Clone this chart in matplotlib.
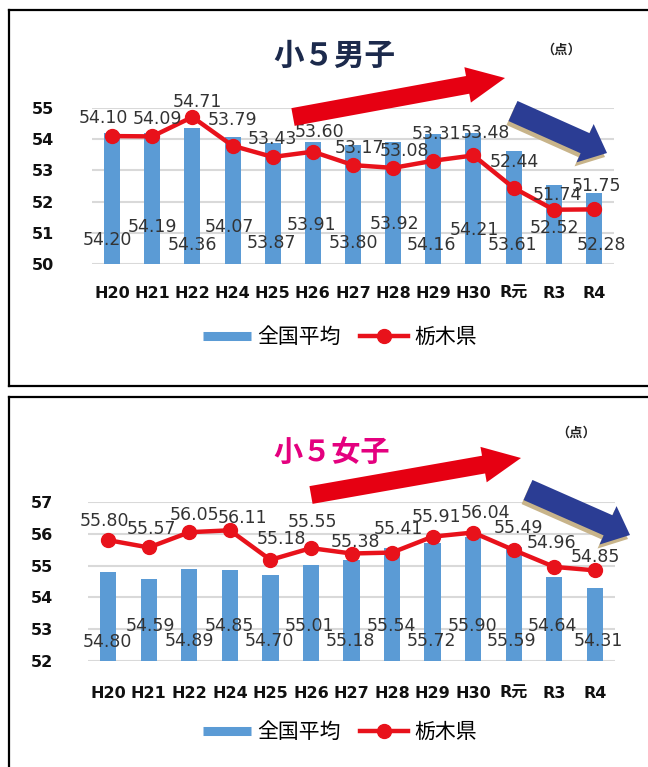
import matplotlib
matplotlib.use("Agg")
import matplotlib.pyplot as plt
from matplotlib.lines import Line2D
from matplotlib.patches import Polygon
import numpy as np

# ---------------- data ----------------
categories = ["H20", "H21", "H22", "H24", "H25", "H26", "H27", "H28", "H29", "H30", "R元", "R3", "R4"]

boys_national = [54.20, 54.19, 54.36, 54.07, 53.87, 53.91, 53.80, 53.92, 54.16, 54.21, 53.61, 52.52, 52.28]
boys_tochigi = [54.10, 54.09, 54.71, 53.79, 53.43, 53.60, 53.17, 53.08, 53.31, 53.48, 52.44, 51.74, 51.75]

girls_national = [54.80, 54.59, 54.89, 54.85, 54.70, 55.01, 55.18, 55.54, 55.72, 55.90, 55.59, 54.64, 54.31]
girls_tochigi = [55.80, 55.57, 56.05, 56.11, 55.18, 55.55, 55.38, 55.41, 55.91, 56.04, 55.49, 54.96, 54.85]

boys_yticks = [50, 51, 52, 53, 54, 55]
girls_yticks = [52, 53, 54, 55, 56, 57]

legend_labels = ["全国平均", "栃木県"]
title_boys = "小５男子"
title_girls = "小５女子"
unit_text = "（点）"

# ---------------- layout / style ----------------
W, H = 648, 767
BAR_C = "#5b9bd5"
LINE_C = "#e8121b"
GRID_C = "#d9d9d9"
LBL_C = "#333333"
CJK = ["Noto Sans CJK JP", "DejaVu Sans"]
TICKF = ["DejaVu Sans", "Noto Sans CJK JP"]

# label offsets in pixels (dx, dy image-down)
boys_line_off = [(-9, -18), (5, -17), (5, -15), (0, -26), (0, -18), (7, -20), (6, -17),
                 (11, -17), (3, -27), (12, -22), (1, -26), (4, -15), (3, -23)]
girls_line_off = [(-4, -19), (3, -18), (5, -17), (13, -12), (11, -21), (1, -26), (4, -12),
                  (6, -24), (4, -20), (12, -20), (5, -22), (-3, -24), (1, -13)]
boys_bar_off = [(-5, 24), (0, 37), (0, 19), (-3, 37), (-1, 21), (-1, 39), (0, 21),
                (1, 40), (-2, 19), (1, 34), (-1, 19), (1, 36), (8, 19)]
girls_bar_off = [(-1, 19), (2, 35), (0, 20), (-1, 35), (-1, 20), (-2, 35), (-1, 20),
                 (-1, 35), (-1, 20), (-1, 35), (-2, 20), (-2, 35), (4, 20)]

fig = plt.figure(figsize=(W / 100, H / 100), dpi=100)
fig.patch.set_facecolor("white")


def fx(x):
    return x / W


def fy(y):
    return 1 - y / H


def add_panel(left, right, top, bottom, yticks, nat, toc, bar_off, line_off, ypad, xpad):
    ax = fig.add_axes([fx(left), fy(bottom), (right - left) / W, (bottom - top) / H])
    x = np.arange(len(categories))
    ax.bar(x, np.array(nat) - yticks[0], bottom=yticks[0], width=0.4, color=BAR_C, zorder=2)
    ax.plot(x, toc, color=LINE_C, lw=3.2, marker="o", markersize=10, zorder=3)
    ax.set_xlim(-0.5, len(categories) - 0.5)
    ax.set_ylim(yticks[0], yticks[-1])
    ax.set_yticks(yticks)
    ax.set_xticks(x)
    ax.set_xticklabels(categories)
    for s in ax.spines.values():
        s.set_visible(False)
    ax.grid(axis="y", color=GRID_C, lw=1.5, zorder=0)
    ax.set_axisbelow(True)
    ax.tick_params(axis="both", length=0)
    ax.tick_params(axis="y", pad=ypad)
    ax.tick_params(axis="x", pad=xpad)
    for t in ax.get_yticklabels():
        t.set_fontfamily("DejaVu Sans")
        t.set_fontweight("bold")
        t.set_fontsize(11.5)
        t.set_color("#111111")
    for t in ax.get_xticklabels():
        t.set_fontfamily(TICKF)
        t.set_fontweight("bold")
        t.set_fontsize(11.5)
        t.set_color("#111111")
    for i in range(len(categories)):
        dx, dy = line_off[i]
        ax.annotate(f"{toc[i]:.2f}", xy=(i, toc[i]), xytext=(dx, -dy), textcoords="offset pixels",
                    ha="center", va="center", fontsize=12.5, color=LBL_C, zorder=5,
                    annotation_clip=False, family="DejaVu Sans")
        dx, dy = bar_off[i]
        ax.annotate(f"{nat[i]:.2f}", xy=(i, yticks[0]), xytext=(dx, dy), textcoords="offset pixels",
                    ha="center", va="center", fontsize=12.5, color=LBL_C, zorder=5,
                    annotation_clip=False, family="DejaVu Sans")
    return ax


def legend(cy):
    h1 = Line2D([0], [0], color=BAR_C, lw=6.5, solid_capstyle="butt")
    h2 = Line2D([0], [0], color=LINE_C, lw=3.2, marker="o", markersize=10)
    fig.legend([h1, h2], legend_labels, loc="center", bbox_to_anchor=(fx(340), fy(cy)),
               ncol=2, frameon=False, prop={"family": CJK, "size": 15},
               handlelength=2.3, handletextpad=0.3, columnspacing=0.9, borderpad=0)


def arrow(tail, tip, shaft_w, head_w, head_l, color, z=6):
    tail = np.array(tail, float)
    tip = np.array(tip, float)
    d = tip - tail
    L = np.hypot(*d)
    u = d / L
    n = np.array([-u[1], u[0]])
    base = tip - u * head_l
    pts = [tail + n * shaft_w / 2, base + n * shaft_w / 2, base + n * head_w / 2, tip,
           base - n * head_w / 2, base - n * shaft_w / 2, tail - n * shaft_w / 2]
    pts = [(fx(p[0]), fy(p[1])) for p in pts]
    fig.patches.append(Polygon(pts, closed=True, facecolor=color, edgecolor="none",
                               transform=fig.transFigure, figure=fig, zorder=z))


def frame(x0, y0, y1):
    fig.add_artist(Line2D([fx(x0), fx(W + 5)], [fy(y0), fy(y0)], color="black", lw=1.6,
                          transform=fig.transFigure))
    fig.add_artist(Line2D([fx(x0), fx(x0)], [fy(y0), fy(y1)], color="black", lw=1.6,
                          transform=fig.transFigure))
    if y1 < H:
        fig.add_artist(Line2D([fx(x0), fx(W + 5)], [fy(y1), fy(y1)], color="black", lw=1.6,
                              transform=fig.transFigure))


# ---------------- top panel ----------------
frame(9, 10, 386)
add_panel(92, 614, 108, 264, boys_yticks, boys_national, boys_tochigi, boys_bar_off,
          boys_line_off, ypad=27, xpad=16)
fig.text(fx(334), fy(56), title_boys, ha="center", va="center", fontsize=22,
         fontweight="bold", color="#1c2a4c", family=CJK)
fig.text(fx(561), fy(50), unit_text, ha="center", va="center", fontsize=9.5,
         fontweight="bold", color="#222222", family=CJK)
arrow((293, 117), (505, 78), 18, 36, 38, "#e60012")
arrow((511, 115), (605, 157), 22, 42, 24, "#c8b48a", z=5)
arrow((513, 111), (607, 153), 22, 42, 24, "#2b3d94")
legend(337)

# ---------------- bottom panel ----------------
frame(9, 397, H + 10)
add_panel(88, 615, 502, 661, girls_yticks, girls_national, girls_tochigi, girls_bar_off,
          girls_line_off, ypad=25, xpad=18)
fig.text(fx(332), fy(452), title_girls, ha="center", va="center", fontsize=21,
         fontweight="bold", color="#e4007f", family=CJK)
fig.text(fx(576), fy(433), unit_text, ha="center", va="center", fontsize=9.5,
         fontweight="bold", color="#222222", family=CJK)
arrow((311, 495), (521, 458), 18, 36, 38, "#e60012")
arrow((526, 494), (628, 539), 22, 42, 24, "#c8b48a", z=5)
arrow((528, 490), (630, 535), 22, 42, 24, "#2b3d94")
legend(732)

fig.savefig("out.png", dpi=100, facecolor="white")
